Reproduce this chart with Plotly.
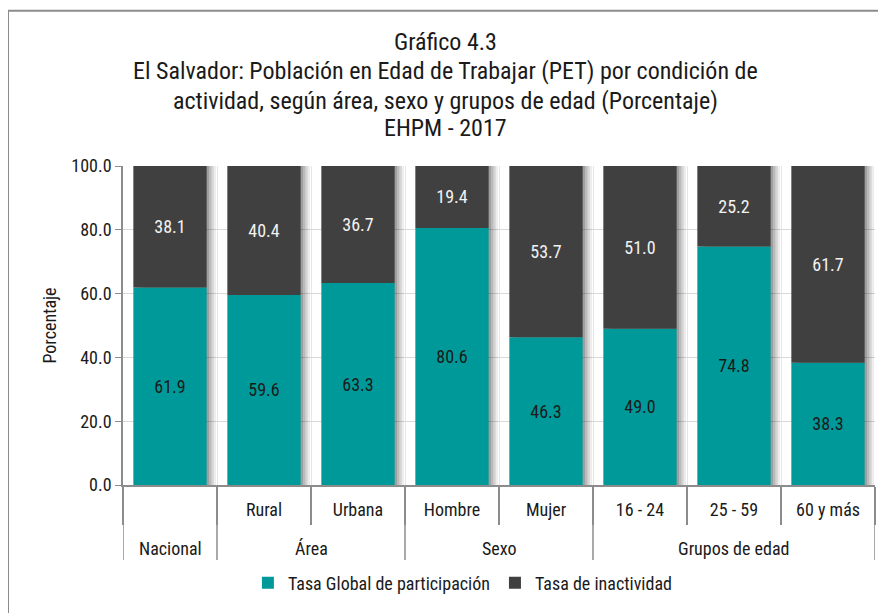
import plotly.graph_objects as go

groups = ["Nacional", "Área", "Área", "Sexo", "Sexo", "Grupos de edad", "Grupos de edad", "Grupos de edad"]
cats = [" ", "Rural", "Urbana", "Hombre", "Mujer", "16 - 24", "25 - 59", "60 y más"]
participacion = [61.9, 59.6, 63.3, 80.6, 46.3, 49.0, 74.8, 38.3]
inactividad = [38.1, 40.4, 36.7, 19.4, 53.7, 51.0, 25.2, 61.7]
yticks = [0, 20, 40, 60, 80, 100]
title_lines = [
    "Gráfico 4.3",
    "El Salvador: Población en Edad de Trabajar (PET) por condición de",
    "actividad, según área, sexo y grupos de edad (Porcentaje)",
    "EHPM - 2017",
]
totals = [p + i for p, i in zip(participacion, inactividad)]

TEAL = "#009999"
DARK = "#404040"
AXC = "#8c8c8c"
FONT = "Roboto Condensed, Liberation Sans Narrow, Arial Narrow, sans-serif"
BW = 0.78
FS = 18

fig = go.Figure()

# soft shadow on the right side of each bar
for k, op in enumerate([0.14, 0.12, 0.10, 0.07]):
    fig.add_trace(go.Bar(
        x=cats, y=totals, width=BW, offset=-BW / 2 + 0.025 * (k + 1),
        marker=dict(color=f"rgba(0,0,0,{op})", line=dict(width=0)),
        showlegend=False, hoverinfo="skip"))

fig.add_trace(go.Bar(
    x=cats, y=participacion, name="Tasa Global de participación", width=BW,
    marker=dict(color=TEAL, line=dict(width=0)),
    text=[f"{v:.1f}" for v in participacion], textposition="inside",
    insidetextanchor="middle", textangle=0,
    textfont=dict(color="#1a1a1a", size=FS, family=FONT)))
fig.add_trace(go.Bar(
    x=cats, y=inactividad, base=participacion, name="Tasa de inactividad", width=BW,
    marker=dict(color=DARK, line=dict(width=0)),
    text=[f"{v:.1f}" for v in inactividad], textposition="inside",
    insidetextanchor="middle", textangle=0,
    textfont=dict(color="#f2f2f2", size=FS, family=FONT)))

# group labels and group dividers, derived from the groups list
annotations = []
shapes = []
n = len(groups)
start = 0
bounds = [-0.5]
for i in range(1, n + 1):
    if i == n or groups[i] != groups[start]:
        annotations.append(dict(
            x=(start + i - 1) / 2, xref="x", y=-0.1975, yref="paper",
            text=groups[start], showarrow=False, yanchor="middle",
            font=dict(size=FS, family=FONT, color="#1a1a1a")))
        bounds.append(i - 0.5)
        start = i
for b in bounds:
    shapes.append(dict(type="line", xref="x", yref="paper", x0=b, x1=b, y0=0, y1=-0.235,
                       line=dict(color=AXC, width=1.5)))

# title lines
title_y = [1.389, 1.298, 1.204, 1.119]
for t, yy in zip(title_lines, title_y):
    annotations.append(dict(
        x=0.4295, xref="paper", y=yy, yref="paper", text=t, showarrow=False,
        xanchor="center", yanchor="middle",
        font=dict(size=24, family=FONT, color="#1a1a1a")))

# outer frame
shapes.append(dict(type="rect", xref="paper", yref="paper",
                   x0=-0.1529, x1=1.05, y0=-1.0, y1=1.487,
                   line=dict(color=AXC, width=2), fillcolor="rgba(0,0,0,0)",
                   layer="below"))

fig.update_layout(
    width=878, height=605,
    barmode="overlay",
    paper_bgcolor="white", plot_bgcolor="white",
    margin=dict(l=115, r=11, t=158, b=128, autoexpand=False),
    font=dict(family=FONT, size=FS, color="#1a1a1a"),
    legend=dict(orientation="h", x=0.452, xanchor="center", y=-0.307, yanchor="middle",
                font=dict(size=FS, family=FONT), traceorder="normal"),
    showlegend=True,
    annotations=annotations,
    shapes=shapes,
)

fig.update_yaxes(
    range=[0, 100], tickvals=yticks, tickformat=".1f",
    showgrid=True, gridcolor="#d9d9d9", gridwidth=1,
    showline=True, linecolor=AXC, linewidth=1.5,
    ticks="outside", ticklen=6, tickcolor=AXC,
    tickfont=dict(size=FS, family=FONT),
    title=dict(text="Porcentaje", font=dict(size=FS, family=FONT), standoff=10),
    zeroline=False)

fig.update_xaxes(
    type="category", categoryorder="array", categoryarray=cats,
    range=[-0.5, n - 0.5],
    showgrid=True, gridcolor="#e6e6e6", tickson="boundaries",
    showline=True, linecolor=AXC, linewidth=1.5,
    ticks="outside", ticklen=38, tickcolor=AXC, tickwidth=1.5,
    ticklabelstandoff=8,
    tickfont=dict(size=FS, family=FONT))

fig.write_html("out.html")
